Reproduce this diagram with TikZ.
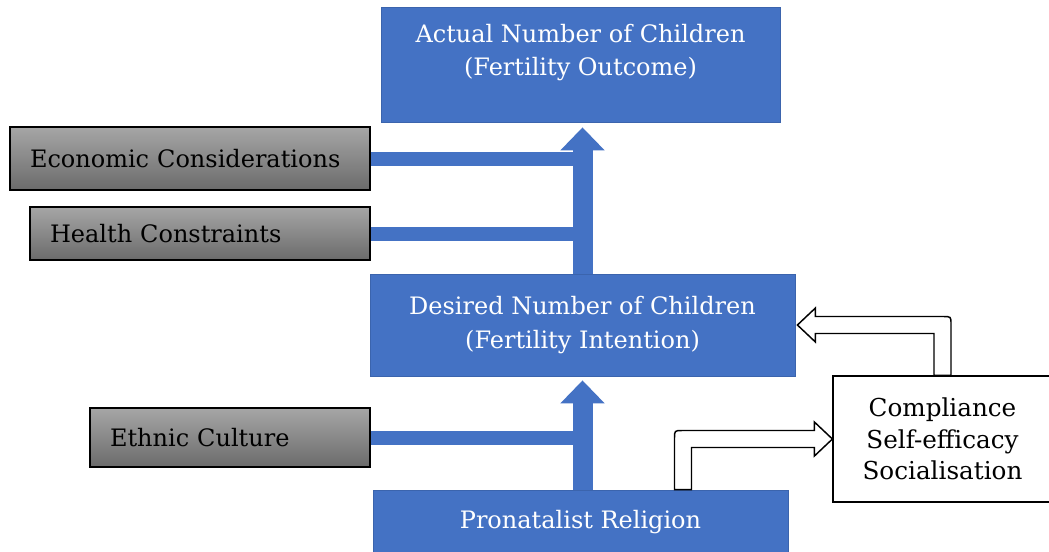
\documentclass[tikz,border=0pt]{standalone}
\usepackage{fontspec}
\setmainfont{DejaVu Serif}
\usetikzlibrary{arrows.meta,calc}
\newdimen\pxu \pxu=0.75pt
\definecolor{boxblue}{HTML}{4472C4}
\definecolor{edgeblue}{HTML}{3B64AD}

\tikzset{
  bluebox/.style={fill=boxblue,draw=edgeblue,line width=0.6pt,text=white,align=center,
    font=\fontsize{18}{25}\selectfont},
  graybox/.style={top color=black!35,bottom color=black!58,draw=black,line width=0.9pt,
    align=left,inner xsep=15pt,inner ysep=0pt,font=\fontsize{18}{25}\selectfont},
  whitebox/.style={fill=white,draw=black,line width=0.9pt,align=center,
    font=\fontsize{18.5}{23.6}\selectfont},
  bar/.style={draw=boxblue,line width=10.5pt},
  thickarrow/.style={draw=boxblue,line width=15pt,
    -{Triangle[width=32.25pt,length=17.25pt]}},
  hollow/.style={draw=black,fill=white,line width=1.1pt,line join=miter}
}

\begin{document}
\begin{tikzpicture}[x=0.75pt,y=-0.75pt]
\useasboundingbox (0,0) rectangle (1049,551);

% boxes
\node[bluebox,minimum width=399\pxu,minimum height=115\pxu] (act) at (580.5,64.5) {};
\node[text=white,align=center,font=\fontsize{18}{25}\selectfont] (acttxt) at (580.5,52.5)
  {Actual Number of Children\\(Fertility Outcome)};
\node[bluebox,minimum width=425\pxu,minimum height=102\pxu] (des) at (582.5,325)
  {Desired Number of Children\\(Fertility Intention)};
\node[bluebox,minimum width=415\pxu,minimum height=64\pxu] (pron) at (580.5,522)
  {Pronatalist Religion};

\node[graybox,text width=320\pxu,minimum height=63\pxu] (econ) at (190,158.5) {Economic Considerations};
\node[graybox,text width=300\pxu,minimum height=53\pxu] (health) at (200,233.5) {Health Constraints};
\node[graybox,text width=240\pxu,minimum height=59\pxu] (ethnic) at (230,437.5) {Ethnic Culture};

\node[whitebox,minimum width=219\pxu,minimum height=126\pxu] (comp) at (942.5,439)
  {Compliance\\Self-efficacy\\Socialisation};

% blue connectors
\draw[bar] (econ.east) -- (econ.east -| des.north);
\draw[bar] (health.east) -- (health.east -| des.north);
\draw[bar] (ethnic.east) -- (ethnic.east -| des.north);
\draw[thickarrow,shorten >=3.75pt] (des.north) -- (act.south -| des.north);
\draw[thickarrow,shorten >=3pt] (pron.north -| des.south) -- (des.south);

% hollow arrow from comp up and back to des
\coordinate (ub) at (comp.north |- des.east);
\draw[hollow] ($(comp.north)+(8.5,0)$) -- ($(ub)+(8.5,-0.5)$)
  .. controls ($(ub)+(8.5,-8.5)$) .. ($(ub)+(0.5,-8.5)$)
  -- ($(des.east)+(20,-8.5)$) -- ($(des.east)+(20,-17)$) -- ($(des.east)+(2,0)$)
  -- ($(des.east)+(20,17)$) -- ($(des.east)+(20,8.5)$) -- ($(ub)+(-8.5,8.5)$)
  -- ($(comp.north)+(-8.5,0)$) -- cycle;

% hollow arrow from pron to comp
\coordinate (rs) at ($(pron.north)+(102.5,0)$);
\coordinate (rb) at (rs |- comp.west);
\draw[hollow] ($(rs)+(-8.5,0)$) -- ($(rb)+(-8.5,-0.5)$)
  .. controls ($(rb)+(-8.5,-8.5)$) .. ($(rb)+(-0.5,-8.5)$)
  -- ($(comp.west)+(-18,-8.5)$) -- ($(comp.west)+(-18,-17)$) -- (comp.west)
  -- ($(comp.west)+(-18,17)$) -- ($(comp.west)+(-18,8.5)$) -- ($(rb)+(8.5,8.5)$)
  -- ($(rs)+(8.5,0)$) -- cycle;
\end{tikzpicture}
\end{document}
